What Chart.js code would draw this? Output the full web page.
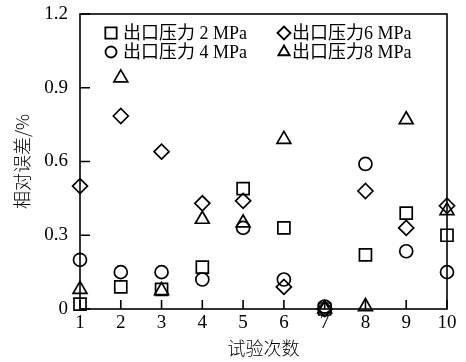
<!DOCTYPE html>
<html>
<head>
<meta charset="utf-8">
<script src="https://cdn.jsdelivr.net/npm/chart.js@4.4.1/dist/chart.umd.min.js"></script>
<style>
  html, body { margin: 0; padding: 0; background: #fff; }
  #wrap { width: 466px; height: 362px; }
</style>
</head>
<body>
<div id="wrap"><canvas id="c"></canvas></div>
<script>
// ---- data ----
const trials = [1, 2, 3, 4, 5, 6, 7, 8, 9, 10];
const err2MPa = [0.02, 0.09, 0.08, 0.17, 0.49, 0.33, 0.00, 0.22, 0.39, 0.30];
const err4MPa = [0.20, 0.15, 0.15, 0.12, 0.33, 0.12, 0.01, 0.59, 0.235, 0.15];
const err6MPa = [0.50, 0.785, 0.64, 0.43, 0.44, 0.09, 0.00, 0.48, 0.33, 0.42];
const err8MPa = [0.08, 0.94, 0.075, 0.365, 0.35, 0.69, 0.00, 0.01, 0.77, 0.40];
const seriesLabels = ["出口压力 2 MPa", "出口压力 4 MPa", "出口压力6 MPa", "出口压力8 MPa"];
const yTickValues = [0, 0.3, 0.6, 0.9, 1.2];

const SERIF = "'Liberation Serif', 'Noto Sans CJK SC', serif";
const CJK   = "'Noto Sans CJK SC', 'Liberation Serif', sans-serif";

const toPoints = vals => trials.map((t, i) => ({ x: t, y: vals[i] }));

function ds(label, vals, style, radius) {
  return {
    label,
    data: toPoints(vals),
    pointStyle: style,
    pointRadius: radius,
    pointHoverRadius: radius,
    borderColor: "#000",
    backgroundColor: "rgba(0,0,0,0)",
    borderWidth: 1.7,
    showLine: false,
    clip: false,
  };
}

// 枠線と内向きの目盛り
const frameTicks = {
  id: "frameTicks",
  beforeDatasetsDraw(chart) {
    const { ctx, chartArea: a, scales: { x, y } } = chart;
    ctx.save();
    ctx.strokeStyle = "#000";
    ctx.lineWidth = 1.6;
    ctx.strokeRect(a.left, a.top, a.right - a.left, a.bottom - a.top);
    ctx.beginPath();
    x.ticks.forEach(t => {
      const px = x.getPixelForValue(t.value);
      ctx.moveTo(px, a.bottom);
      ctx.lineTo(px, a.bottom - 9);
    });
    y.ticks.forEach(t => {
      const py = y.getPixelForValue(t.value);
      ctx.moveTo(a.left, py);
      ctx.lineTo(a.left + 10, py);
    });
    ctx.stroke();
    ctx.restore();
  },
};

// 2x2 凡例（枠内上部）
const gridLegend = {
  id: "gridLegend",
  afterDraw(chart) {
    const { ctx, chartArea: a } = chart;
    const slots = [[0, 0], [0, 1], [1, 0], [1, 1]];
    const colX = [a.left + 31, a.left + 204];
    const rowY = [a.top + 19, a.top + 38];
    ctx.save();
    ctx.font = "18px " + SERIF;
    ctx.textBaseline = "middle";
    ctx.lineWidth = 1.8;
    ctx.strokeStyle = "#000";
    chart.data.datasets.forEach((d, i) => {
      const [c, r] = slots[i];
      const mx = colX[c], my = rowY[r];
      ctx.fillStyle = "rgba(0,0,0,0)";
      Chart.helpers.drawPoint(ctx, {
        pointStyle: d.pointStyle,
        radius: d.pointStyle === "rect" ? 8 : d.pointStyle === "circle" ? 5.5 : 6.5,
        borderWidth: 1.8,
      }, mx, my);
      ctx.fillStyle = "#000";
      ctx.fillText(d.label, mx + (c === 0 ? 12 : 8), my + 1);
    });
    ctx.restore();
  },
};

new Chart(document.getElementById("c"), {
  type: "scatter",
  data: {
    datasets: [
      ds(seriesLabels[0], err2MPa, "rect", 8.5),
      ds(seriesLabels[1], err4MPa, "circle", 6.5),
      ds(seriesLabels[2], err6MPa, "rectRot", 7.5),
      ds(seriesLabels[3], err8MPa, "triangle", 8),
    ],
  },
  options: {
    responsive: true,
    maintainAspectRatio: false,
    animation: false,
    layout: { padding: { left: 0, top: 14, right: 19, bottom: 0 } },
    plugins: {
      legend: { display: false },
      tooltip: { enabled: false },
    },
    scales: {
      x: {
        type: "linear",
        min: 1,
        max: 10,
        afterFit: s => { s.height = 53; s.paddingLeft = 0; s.paddingRight = 0; },
        afterBuildTicks: s => { s.ticks = trials.map(v => ({ value: v })); },
        grid: { display: false, drawTicks: false },
        border: { display: false },
        ticks: { color: "#000", padding: 3, font: { family: SERIF, size: 19 } },
        title: { display: true, text: "试验次数", color: "#000", padding: { top: 0, bottom: 3 },
                 font: { family: CJK, size: 18, weight: 300 } },
      },
      y: {
        min: 0,
        max: 1.2,
        afterFit: s => { s.width = 80; s.paddingTop = 0; s.paddingBottom = 0; },
        afterBuildTicks: s => { s.ticks = yTickValues.map(v => ({ value: v })); },
        grid: { display: false, drawTicks: false },
        border: { display: false },
        ticks: { color: "#000", padding: 12, font: { family: SERIF, size: 19 },
                 callback: v => String(+v.toFixed(1)) },
        title: { display: true, text: "相对误差/%", color: "#000", padding: { top: 11, bottom: 0 },
                 font: { family: CJK, size: 18, weight: 300 } },
      },
    },
  },
  plugins: [frameTicks, gridLegend],
});
</script>
</body>
</html>
